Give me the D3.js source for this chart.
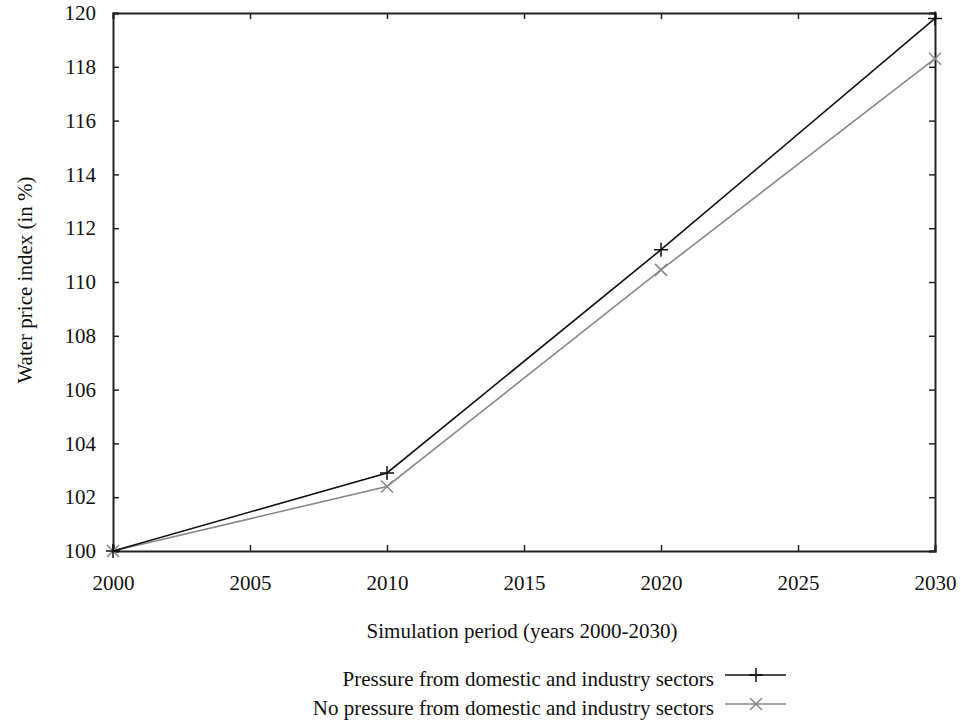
<!DOCTYPE html>
<html>
<head>
<meta charset="utf-8">
<script src="https://cdn.jsdelivr.net/npm/d3@7"></script>
<style>
  html, body { margin: 0; padding: 0; background: #fff; }
  svg { display: block; }
  svg text { font-family: "Liberation Serif", "DejaVu Serif", serif !important; fill: #111; }
</style>
</head>
<body>
<svg id="chart" width="961" height="723"></svg>
<script>
// Simulated water price index, base year 2000 = 100
const years = [2000, 2010, 2020, 2030];
const withPressure = [100, 102.9, 111.2, 119.8];
const noPressure = [100, 102.4, 110.45, 118.3];
const xTicks = [2000, 2005, 2010, 2015, 2020, 2025, 2030];
const yTicks = [100, 102, 104, 106, 108, 110, 112, 114, 116, 118, 120];
const seriesNames = [
  "Pressure from domestic and industry sectors",
  "No pressure from domestic and industry sectors"
];

const svg = d3.select("#chart");
const margin = { left: 113, right: 26, top: 13, bottom: 172 };
const W = 961, H = 723;
const x = d3.scaleLinear().domain([2000, 2030]).range([margin.left, W - margin.right]);
const y = d3.scaleLinear().domain([100, 120]).range([H - margin.bottom, margin.top]);

const tickLen = 6;
const axisColor = "#222";
const fs = 21;

// Inward ticks on all four sides
const axisBottomG = svg.append("g").attr("transform", `translate(0,${y(100)})`)
  .call(d3.axisBottom(x).tickValues(xTicks).tickFormat(d3.format("d")).tickSize(-tickLen).tickPadding(24));
const axisTopG = svg.append("g").attr("transform", `translate(0,${y(120)})`)
  .call(d3.axisTop(x).tickValues(xTicks).tickFormat("").tickSize(-tickLen));
const axisLeftG = svg.append("g").attr("transform", `translate(${x(2000)},0)`)
  .call(d3.axisLeft(y).tickValues(yTicks).tickFormat(d3.format("d")).tickSize(-tickLen).tickPadding(17));
const axisRightG = svg.append("g").attr("transform", `translate(${x(2030)},0)`)
  .call(d3.axisRight(y).tickValues(yTicks).tickFormat("").tickSize(-tickLen));

[axisBottomG, axisTopG, axisLeftG, axisRightG].forEach(g => {
  g.attr("font-size", fs);
  g.select(".domain").attr("stroke", axisColor).attr("stroke-width", 2);
  g.selectAll(".tick line").attr("stroke", axisColor).attr("stroke-width", 1.5);
  g.selectAll(".tick text").attr("fill", "#111");
});

// Series lines and point markers
const line = d3.line().x((d, i) => x(years[i])).y(d => y(d));
const series = [
  { values: withPressure, color: "#111", marker: "plus" },
  { values: noPressure, color: "#888", marker: "cross" }
];

function drawMarker(g, cx, cy, type, color) {
  const s = type === "plus" ? 7 : 6;
  const p = type === "plus"
    ? `M${cx - s},${cy}L${cx + s},${cy}M${cx},${cy - s}L${cx},${cy + s}`
    : `M${cx - s},${cy - s}L${cx + s},${cy + s}M${cx - s},${cy + s}L${cx + s},${cy - s}`;
  g.append("path").attr("d", p).attr("stroke", color).attr("stroke-width", 1.5).attr("fill", "none");
}

series.slice().reverse().forEach(s => {
  svg.append("path").datum(s.values).attr("d", line)
    .attr("fill", "none").attr("stroke", s.color).attr("stroke-width", 1.6);
  const g = svg.append("g");
  s.values.forEach((v, i) => drawMarker(g, x(years[i]), y(v), s.marker, s.color));
});

// Axis titles
svg.append("text").attr("x", 522).attr("y", 638)
  .attr("text-anchor", "middle").attr("font-size", fs)
  .text("Simulation period (years 2000-2030)");
svg.append("text")
  .attr("transform", `translate(32,280) rotate(-90)`)
  .attr("text-anchor", "middle").attr("font-size", fs)
  .text("Water price index (in %)");

// Legend
const legendY = [675, 704];
series.forEach((s, i) => {
  svg.append("text").attr("x", 714).attr("y", legendY[i] + 11)
    .attr("text-anchor", "end").attr("font-size", fs).text(seriesNames[i]);
  svg.append("line").attr("x1", 725).attr("x2", 786)
    .attr("y1", legendY[i]).attr("y2", legendY[i])
    .attr("stroke", s.color).attr("stroke-width", 1.6);
  drawMarker(svg, 756, legendY[i], s.marker, s.color);
});
</script>
</body>
</html>
